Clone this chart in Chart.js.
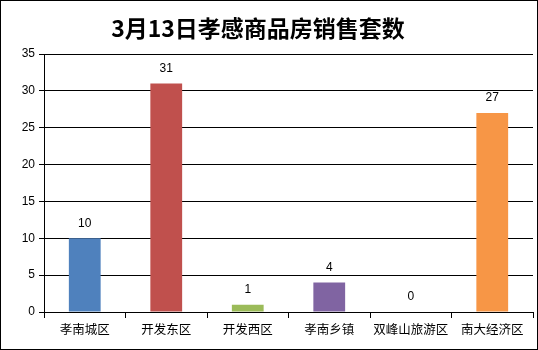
<!DOCTYPE html>
<html>
<head>
<meta charset="utf-8">
<script src="https://cdn.jsdelivr.net/npm/chart.js@4"></script>
<style>
  body { margin: 0; background: #fff; }
  #wrap { position: relative; width: 538px; height: 350px; }
  #title {
    position: absolute; left: 0; top: 14px; width: 516px;
    text-align: center; font: bold 23px "Noto Sans CJK SC", sans-serif;
    line-height: 26px; color: #000;
  }
</style>
</head>
<body>
<div id="wrap">
  <canvas id="chart" width="538" height="350"></canvas>
  <div id="title">3月13日孝感商品房销售套数</div>
</div>
<script>
const areas = ["孝南城区", "开发东区", "开发西区", "孝南乡镇", "双峰山旅游区", "南大经济区"];
const sales = [10, 31, 1, 4, 0, 27];
const barColors = ["#4F81BD", "#C0504D", "#9BBB59", "#8064A2", "#4BACC6", "#F79646"];
const yTicks = [0, 5, 10, 15, 20, 25, 30, 35];

// value labels over the bars + outer frame
const extras = {
  id: "extras",
  beforeDraw(chart) {
    const ctx = chart.ctx;
    ctx.save();
    ctx.fillStyle = "#fff";
    ctx.fillRect(0, 0, chart.width, chart.height);
    ctx.restore();
  },
  afterDraw(chart) {
    const ctx = chart.ctx;
    ctx.save();
    ctx.font = "12px 'Liberation Sans', Arial, sans-serif";
    ctx.fillStyle = "#000";
    ctx.textAlign = "center";
    ctx.textBaseline = "middle";
    chart.getDatasetMeta(0).data.forEach((bar, i) => {
      ctx.fillText(String(sales[i]), bar.x, bar.y - 15);
    });
    ctx.strokeStyle = "#000";
    ctx.lineWidth = 1;
    ctx.strokeRect(0.5, 0.5, chart.width - 1, chart.height - 1);
    ctx.restore();
  }
};

const ctx = document.getElementById("chart").getContext("2d");
new Chart(ctx, {
  type: "bar",
  data: {
    labels: areas,
    datasets: [{
      data: sales,
      backgroundColor: barColors,
      borderWidth: 0,
      barPercentage: 0.39,
      categoryPercentage: 1
    }]
  },
  options: {
    responsive: false,
    animation: false,
    devicePixelRatio: 1,
    layout: { padding: { top: 54, right: 5, left: 0, bottom: 0 } },
    plugins: { legend: { display: false }, tooltip: { enabled: false } },
    scales: {
      y: {
        min: 0,
        max: 35,
        afterBuildTicks: (s) => { s.ticks = yTicks.map(v => ({ value: v })); },
        afterFit: (s) => { s.width = 44; },
        ticks: { color: "#000", padding: 4, font: { family: "'Liberation Sans', Arial, sans-serif", size: 12 } },
        grid: { color: "#000", tickColor: "#000", tickLength: 5, lineWidth: 1 },
        border: { color: "#000" }
      },
      x: {
        afterFit: (s) => { s.height = 38; },
        ticks: {
          color: "#000", padding: 4, autoSkip: false, minRotation: 0, maxRotation: 0,
          font: { family: "'Noto Sans CJK SC', sans-serif", size: 12.5 }
        },
        grid: { drawOnChartArea: false, color: "#000", tickColor: "#000", tickLength: 6, offset: true },
        border: { color: "#000" }
      }
    }
  },
  plugins: [extras]
});
</script>
</body>
</html>
